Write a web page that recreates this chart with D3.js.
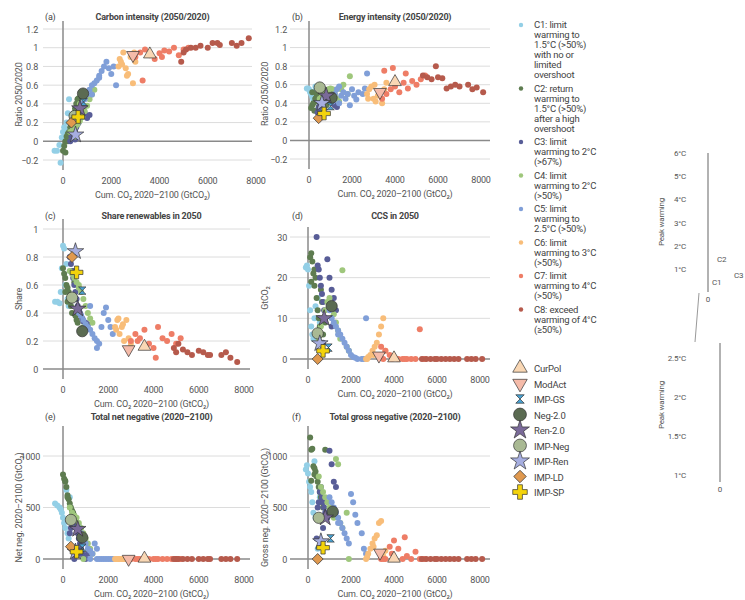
<!DOCTYPE html>
<html><head><meta charset="utf-8">
<script src="https://cdn.jsdelivr.net/npm/d3@7"></script>
<style>
body{margin:0;background:#fff}
text{font-family:Roboto,"Liberation Sans",sans-serif;fill:#555;letter-spacing:-0.2px}
</style></head>
<body><div id="chart"></div>
<script>
// scenario categories: cumulative CO2 (left column / right column) and panel values
let cats = ["C1","C2","C3","C4","C5","C6","C7","C8"];
let catColors = ["#93cfe6","#5e7c50","#585d97","#9fc77c","#809fd8","#f8bd79","#ee7d66","#b65a4c"];
let catLabels = [
	["C1: limit","warming to","1.5°C (>50%)","with no or","limited","overshoot"],
	["C2: return","warming to","1.5°C (>50%)","after a high","overshoot"],
	["C3: limit","warming to 2°C","(>67%)"],
	["C4: limit","warming to 2°C","(>50%)"],
	["C5: limit","warming to","2.5°C (>50%)"],
	["C6: limit","warming to 3°C","(>50%)"],
	["C7: limit","warming to 4°C","(>50%)"],
	["C8: exceed","warming of 4°C","(≥50%)"]
];

let xLeft = [
	[-350,-250,-150,-100,-50,0,50,100,150,200,250,300],
	[0,50,100,150,200,250,300,350,400,450,500,550,600,650,100,200],
	[300,350,400,450,500,550,600,650,700,750,800,850,900,1000,1100,500],
	[300,400,500,600,700,800,900,1000,1100,1200,1300,500,700,900],
	[700,800,900,1000,1100,1200,1300,1400,1500,1600,1700,1800,1900,2000,2100,2200,1500,1200],
	[2300,2400,2450,2500,2600,2700,2800,2900,3000,2350,2650,2950],
	[3000,3200,3400,3600,3800,4000,4200,4400,4600,4800,5000,5200,3300,4100],
	[4900,5000,5100,5300,5500,5700,6000,6200,6400,6500,7000,7200,7400,7700]
];
let xRight = [
	[-100,-50,0,50,100,150,200,250,300,350,450,550],
	[100,150,200,250,300,350,400,450,500,550,600,650,700,800,150,300],
	[400,450,500,550,600,650,700,750,800,900,1000,1100,1200,1300,1100,700],
	[500,600,700,800,900,1000,1100,1200,1300,1400,1500,1600,1800,1900],
	[1000,1100,1200,1300,1400,1500,1600,1700,1800,1900,2000,2100,2200,2300,2500,2600,2700,1400],
	[2700,2800,2900,3000,3100,3200,3300,3400,3500,3600,3050,2750],
	[3400,3600,3800,4000,4200,4400,4600,4800,5000,5200,5400,3500,3900,4500],
	[5300,5500,5700,5900,6000,6200,6400,6600,6800,7000,7400,7600,7800,8100]
];
let carbonInt = [
	[-0.1,-0.1,-0.04,-0.23,0.04,0.1,0.15,0.12,0.2,0.3,0.45,0.14],
	[-0.1,-0.05,0.0,0.05,0.08,0.1,0.15,0.2,0.25,0.3,0.35,0.4,0.45,0.46,-0.12,0.0],
	[0.0,0.05,0.08,0.1,0.12,0.15,0.18,0.2,0.25,0.28,0.32,0.35,0.3,0.25,0.28,0.02],
	[0.1,0.12,0.15,0.18,0.22,0.26,0.32,0.38,0.45,0.5,0.55,0.05,0.4,0.48],
	[0.35,0.4,0.45,0.5,0.55,0.6,0.62,0.65,0.7,0.75,0.8,0.85,0.78,0.72,0.8,0.6,0.68,0.5],
	[0.8,0.85,0.82,0.95,0.78,0.72,0.9,0.62,0.85,0.88,0.7,0.95],
	[0.9,0.95,0.98,0.92,0.88,0.94,0.97,0.96,1.0,0.92,0.98,1.0,0.65,0.9],
	[0.85,0.95,0.98,1.0,1.0,1.02,1.0,1.05,1.05,1.03,1.05,1.02,1.05,1.1]
];
let energyInt = [
	[0.56,0.56,0.55,0.52,0.5,0.47,0.44,0.53,0.58,0.57,0.45,0.4],
	[0.35,0.38,0.4,0.32,0.45,0.5,0.42,0.36,0.48,0.3,0.4,0.44,0.5,0.38,0.52,0.45],
	[0.3,0.35,0.38,0.4,0.42,0.44,0.46,0.48,0.5,0.45,0.42,0.4,0.38,0.36,0.48,0.55],
	[0.45,0.48,0.5,0.52,0.55,0.56,0.55,0.5,0.45,0.42,0.55,0.6,0.5,0.69],
	[0.45,0.42,0.5,0.55,0.4,0.48,0.52,0.45,0.5,0.38,0.55,0.48,0.44,0.52,0.5,0.56,0.72,0.58],
	[0.5,0.55,0.58,0.45,0.42,0.48,0.52,0.4,0.55,0.62,0.6,0.45],
	[0.45,0.5,0.55,0.58,0.52,0.62,0.56,0.64,0.6,0.66,0.7,0.75,0.78,0.72],
	[0.7,0.68,0.66,0.8,0.68,0.67,0.56,0.58,0.6,0.58,0.6,0.55,0.57,0.52]
];
let renewShare = [
	[0.48,0.48,0.47,0.55,0.72,0.88,0.86,0.6,0.75,0.5,0.45,0.7],
	[0.72,0.68,0.65,0.6,0.58,0.55,0.5,0.45,0.4,0.7,0.62,0.38,0.35,0.33,0.55,0.48],
	[0.8,0.75,0.7,0.65,0.6,0.55,0.5,0.45,0.42,0.4,0.38,0.36,0.34,0.33,0.32,0.68],
	[0.7,0.68,0.66,0.62,0.6,0.55,0.5,0.45,0.4,0.36,0.33,0.65,0.58,0.3],
	[0.4,0.38,0.35,0.32,0.3,0.28,0.25,0.22,0.2,0.18,0.3,0.4,0.44,0.35,0.3,0.25,0.15,0.45],
	[0.3,0.35,0.36,0.25,0.3,0.2,0.35,0.22,0.18,0.28,0.32,0.15],
	[0.2,0.25,0.22,0.28,0.18,0.15,0.3,0.22,0.2,0.25,0.18,0.22,0.2,0.08],
	[0.15,0.12,0.18,0.14,0.12,0.1,0.13,0.12,0.1,0.1,0.1,0.12,0.08,0.05]
];
let ccs = [
	[22.5,23,22,18,12,8,6,5,10,13,15,9],
	[25,26,24,21,18,20,15,12,10,8,17,14,6,9,19,22],
	[30,23,22,20,18,16,14,12,10,24.5,20,17,15,12,8,4],
	[5,8,10,12,14,15,13,11,9,7,5,21.8,3,2],
	[12,10,9,8,7,6,5,4,3,2,1,0.5,0.3,0,0,0,10,6],
	[0,0.5,1,2,3,4,6,8,10,2,1,0],
	[3,2,1,0.5,0,0,0,0,0,7.3,0,0,0,0],
	[0,0,0,0,0,0,0,0,0,0,0,0,0,0]
];
let netNeg = [
	[540,520,500,480,450,400,350,300,670,250,200,600],
	[820,780,750,700,620,580,540,500,470,450,420,380,330,280,760,600],
	[250,300,350,400,380,350,300,250,200,150,100,50,20,0,50,0],
	[500,450,420,400,350,300,250,200,150,100,50,380,320,0],
	[300,250,200,150,100,80,50,150,0,0,0,0,0,0,0,0,100,0],
	[0,0,0,0,0,0,0,0,0,0,0,0],
	[0,0,0,0,0,0,0,0,0,0,0,0,0,0],
	[0,0,0,0,0,0,0,0,0,0,0,0,0,0]
];
let grossNeg = [
	[870,910,830,750,700,650,550,450,950,400,100,600],
	[1180,1060,1070,900,880,850,800,750,700,650,600,550,500,1060,760,820],
	[200,500,550,650,700,600,550,500,450,400,1050,920,750,700,500,300],
	[800,700,650,600,550,500,450,400,970,920,350,300,450,0],
	[600,550,500,450,400,350,300,250,200,150,630,550,430,350,250,100,50,350],
	[0,50,100,150,200,230,350,370,30,80,120,20],
	[0,0,120,180,100,0,30,0,70,0,0,0,50,210],
	[0,0,0,0,0,0,0,0,0,0,0,0,0,0]
];

// illustrative pathways
let pathNames = ["CurPol","ModAct","IMP-GS","Neg-2.0","Ren-2.0","IMP-Neg","IMP-Ren","IMP-LD","IMP-SP"];
let pathFills = ["#f9d7b4","#f5bba9","#4aa3d4","#5b6b52","#7a6a99","#a9b993","#a6aee0","#e0994f","#f3d30c"];
let pathX_a = [3600,2900,850,830,700,480,520,350,630];
let pathY_a = [0.93,0.92,0.42,0.51,0.35,0.27,0.07,0.2,0.26];
let pathX_b = [4000,3300,1000,1050,800,500,600,450,700];
let pathY_b = [0.63,0.52,0.37,0.46,0.48,0.57,0.4,0.24,0.29];
let pathX_c = [3600,2900,850,850,650,400,550,400,600];
let pathY_c = [0.16,0.14,0.56,0.27,0.43,0.51,0.84,0.8,0.69];
let pathX_d = [4000,3300,950,1100,750,450,550,450,700];
let pathY_d = [0.2,0.8,2.8,13,10,6.3,3.8,0,2];
let pathX_e = [3600,2900,850,850,650,350,550,350,600];
let pathY_e = [5,0,110,210,290,380,70,120,70];
let pathX_f = [4000,3350,1050,1150,800,500,600,450,700];
let pathY_f = [5,60,200,460,400,400,170,0,110];

let peakTicks1 = ["6°C","5°C","4°C","3°C","2°C","1°C"];
let peakTicks2 = ["2.5°C","2°C","1.5°C","1°C"];

let width = 745, height = 600;
let svg = d3.select("#chart").append("svg").attr("width", width).attr("height", height);

let panels = [
	{id:"(a)", title:"Carbon intensity (2050/2020)", ylab:"Ratio 2050/2020", xs:xLeft, ys:carbonInt, px:pathX_a, py:pathY_a,
	 xr:[63,256], yd:[-0.2,1.2], yr:[160,29], yt:d3.range(-0.2,1.21,0.2), gx:[43,252], top:20, ax:22, tickEnd:38, fmt:d3.format("~g")},
	{id:"(b)", title:"Energy intensity (2050/2020)", ylab:"Ratio 2050/2020", xs:xRight, ys:energyInt, px:pathX_b, py:pathY_b,
	 xr:[309,481], yd:[-0.2,1.2], yr:[159,29], yt:d3.range(-0.2,1.21,0.2), gx:[290,490], top:20, ax:268, tickEnd:287, fmt:d3.format("~g")},
	{id:"(c)", title:"Share renewables in 2050", ylab:"Share", xs:xLeft, ys:renewShare, px:pathX_c, py:pathY_c,
	 xr:[63,244], yd:[0,1], yr:[369,229], yt:d3.range(0,1.01,0.2), gx:[43,250], top:219, ax:22, tickEnd:38, fmt:d3.format("~g")},
	{id:"(d)", title:"CCS in 2050", ylab:"GtCO₂", xs:xRight, ys:ccs, px:pathX_d, py:pathY_d,
	 xr:[308,480], yd:[0,30], yr:[359,237], yt:[0,10,20,30], gx:[290,490], top:219, ax:268, tickEnd:287, fmt:d3.format("d")},
	{id:"(e)", title:"Total net negative (2020–2100)", ylab:"Net neg. 2020–2100 (GtCO₂)", xs:xLeft, ys:netNeg, px:pathX_e, py:pathY_e,
	 xr:[63,244], yd:[0,1000], yr:[559,456], yt:[0,500,1000], gx:[43,250], top:420, ax:22, tickEnd:40, fmt:d3.format("d")},
	{id:"(f)", title:"Total gross negative (2020–2100)", ylab:"Gross neg. 2020–2100 (GtCO₂)", xs:xRight, ys:grossNeg, px:pathX_f, py:pathY_f,
	 xr:[308,480], yd:[0,1000], yr:[559,456], yt:[0,500,1000], gx:[290,490], top:420, ax:268, tickEnd:287, fmt:d3.format("d")}
];

// marker shapes for illustrative pathways
function pathSymbol(i, s) {
	let g = d3.symbol().size(s);
	if (i == 0) return g.type(d3.symbolTriangle)();
	if (i == 1) return g.type(d3.symbolTriangle)();
	if (i == 2) { let h = Math.sqrt(s)/2; return "M"+(-h)+","+(-h)+"L"+h+","+(-h)+"L"+(-h)+","+h+"L"+h+","+h+"Z"; }
	if (i == 3 || i == 5) return g.type(d3.symbolCircle)();
	if (i == 4 || i == 6) return g.type(d3.symbolStar)();
	if (i == 7) return g.type(d3.symbolSquare)();
	return g.type(d3.symbolCross)();
}
function pathRotate(i) { return i == 1 ? 180 : (i == 7 ? 45 : 0); }
let pathSizes = [70,70,55,100,85,100,85,60,90];

panels.forEach(function(p){
	let x = d3.scaleLinear().domain([0,8000]).range(p.xr);
	let y = d3.scaleLinear().domain(p.yd).range(p.yr);
	let g = svg.append("g");
	let yTop = y(p.yd[1]) - 8, yBot = y(p.yd[0]) + 10;
	if (p.yd[0] == 0) yTop = y(p.yd[1]) - (p.id == "(f)" || p.id == "(e)" ? 30 : 10);

	g.selectAll(".grid").data(p.yt).enter().append("line")
		.attr("x1", p.gx[0]).attr("x2", p.gx[1])
		.attr("y1", d => y(d)).attr("y2", d => y(d))
		.attr("stroke", d => Math.abs(d) < 1e-9 ? "#8a8a8a" : "#dcdcdc")
		.attr("stroke-width", d => Math.abs(d) < 1e-9 ? 1.5 : 1);
	g.append("line").attr("x1", x(0)).attr("x2", x(0)).attr("y1", yTop).attr("y2", yBot)
		.attr("stroke", "#8a8a8a").attr("stroke-width", 1.5);

	g.selectAll(".yt").data(p.yt).enter().append("text")
		.attr("x", p.tickEnd).attr("y", d => y(d) + 3.5).attr("text-anchor", "end")
		.style("font-size", "9px").text(d => p.fmt(Math.round(d*10)/10));
	g.selectAll(".xt").data([0,2000,4000,6000,8000]).enter().append("text")
		.attr("x", d => x(d)).attr("y", yBot + 14).attr("text-anchor", "middle")
		.style("font-size", "9px").text(d => d);
	g.append("text").attr("x", (p.gx[0]+p.gx[1])/2 + 5).attr("y", yBot + 28).attr("text-anchor", "middle")
		.style("font-size", "9px").text("Cum. CO₂ 2020–2100 (GtCO₂)");
	g.append("text").attr("x", (p.gx[0]+p.gx[1])/2 + 5).attr("y", p.top).attr("text-anchor", "middle")
		.style("font-size", "9px").style("font-weight", "bold").style("fill", "#444").text(p.title);
	g.append("text").attr("x", p.gx[0] + 2).attr("y", p.top).style("font-size", "9px").style("fill", "#444").text(p.id);
	g.append("text").attr("transform", "translate(" + p.ax + "," + (y(p.yd[0]) + y(p.yd[1]))/2 + ") rotate(-90)")
		.attr("text-anchor", "middle").style("font-size", "9px").text(p.ylab);

	cats.forEach(function(c, ci){
		g.selectAll(".pt" + ci).data(p.ys[ci]).enter().append("circle")
			.attr("cx", (d, i) => x(p.xs[ci][i])).attr("cy", d => y(d)).attr("r", 3)
			.attr("fill", catColors[ci]);
	});

	g.selectAll(".path").data(pathNames).enter().append("path")
		.attr("d", (d, i) => pathSymbol(i, pathSizes[i]))
		.attr("transform", (d, i) => "translate(" + x(p.px[i]) + "," + y(p.py[i]) + ") rotate(" + pathRotate(i) + ")")
		.attr("fill", (d, i) => pathFills[i]).attr("stroke", "#333").attr("stroke-width", 0.7);
});

// category legend
let ly = 28;
catLabels.forEach(function(lines, ci){
	svg.append("circle").attr("cx", 521).attr("cy", ly - 3).attr("r", 2.2).attr("fill", catColors[ci]);
	lines.forEach(function(t, j){
		svg.append("text").attr("x", 534).attr("y", ly + j*10).style("font-size", "9.5px").style("fill", "#444").text(t);
	});
	ly += lines.length * 10 + 3.5;
});

// pathway legend
pathNames.forEach(function(n, i){
	let yy = 368 + i * 15.5;
	svg.append("path").attr("d", pathSymbol(i, pathSizes[i] * 1.3))
		.attr("transform", "translate(520," + yy + ") rotate(" + pathRotate(i) + ")")
		.attr("fill", pathFills[i]).attr("stroke", "#333").attr("stroke-width", 0.7);
	svg.append("text").attr("x", 534).attr("y", yy + 4).style("font-size", "9.5px").style("fill", "#444").text(n);
});

// peak warming sketches
let pw1 = d3.scaleLinear().domain([0,6]).range([292,153]);
svg.append("line").attr("x1", 708).attr("x2", 708).attr("y1", pw1(6)).attr("y2", pw1(0)).attr("stroke", "#999").attr("stroke-width", 1.5);
svg.selectAll(".pk1").data(peakTicks1).enter().append("text")
	.attr("x", 686).attr("y", (d, i) => pw1(6 - i) + 3).attr("text-anchor", "end").style("font-size", "8px").text(d => d);
svg.append("text").attr("x", 708).attr("y", 302).attr("text-anchor", "middle").style("font-size", "8px").text("0");
svg.append("text").attr("transform", "translate(664,222) rotate(-90)").attr("text-anchor", "middle").style("font-size", "8px").text("Peak warming");
svg.append("text").attr("x", 717).attr("y", 262).style("font-size", "8px").text("C2");
svg.append("text").attr("x", 712).attr("y", 285).style("font-size", "8px").text("C1");
svg.append("text").attr("x", 734).attr("y", 278).style("font-size", "8px").text("C3");
svg.append("line").attr("x1", 699).attr("x2", 695).attr("y1", 293).attr("y2", 342).attr("stroke", "#999");

let pw2 = d3.scaleLinear().domain([1,2.5]).range([475,358]);
svg.append("line").attr("x1", 720).attr("x2", 720).attr("y1", 343).attr("y2", 482).attr("stroke", "#999").attr("stroke-width", 1.5);
svg.selectAll(".pk2").data(peakTicks2).enter().append("text")
	.attr("x", 686).attr("y", (d, i) => pw2(2.5 - i*0.5) + 3).attr("text-anchor", "end").style("font-size", "8px").text(d => d);
svg.append("text").attr("x", 720).attr("y", 492).attr("text-anchor", "middle").style("font-size", "8px").text("0");
svg.append("text").attr("transform", "translate(664,405) rotate(-90)").attr("text-anchor", "middle").style("font-size", "8px").text("Peak warming");
</script>
</body></html>
